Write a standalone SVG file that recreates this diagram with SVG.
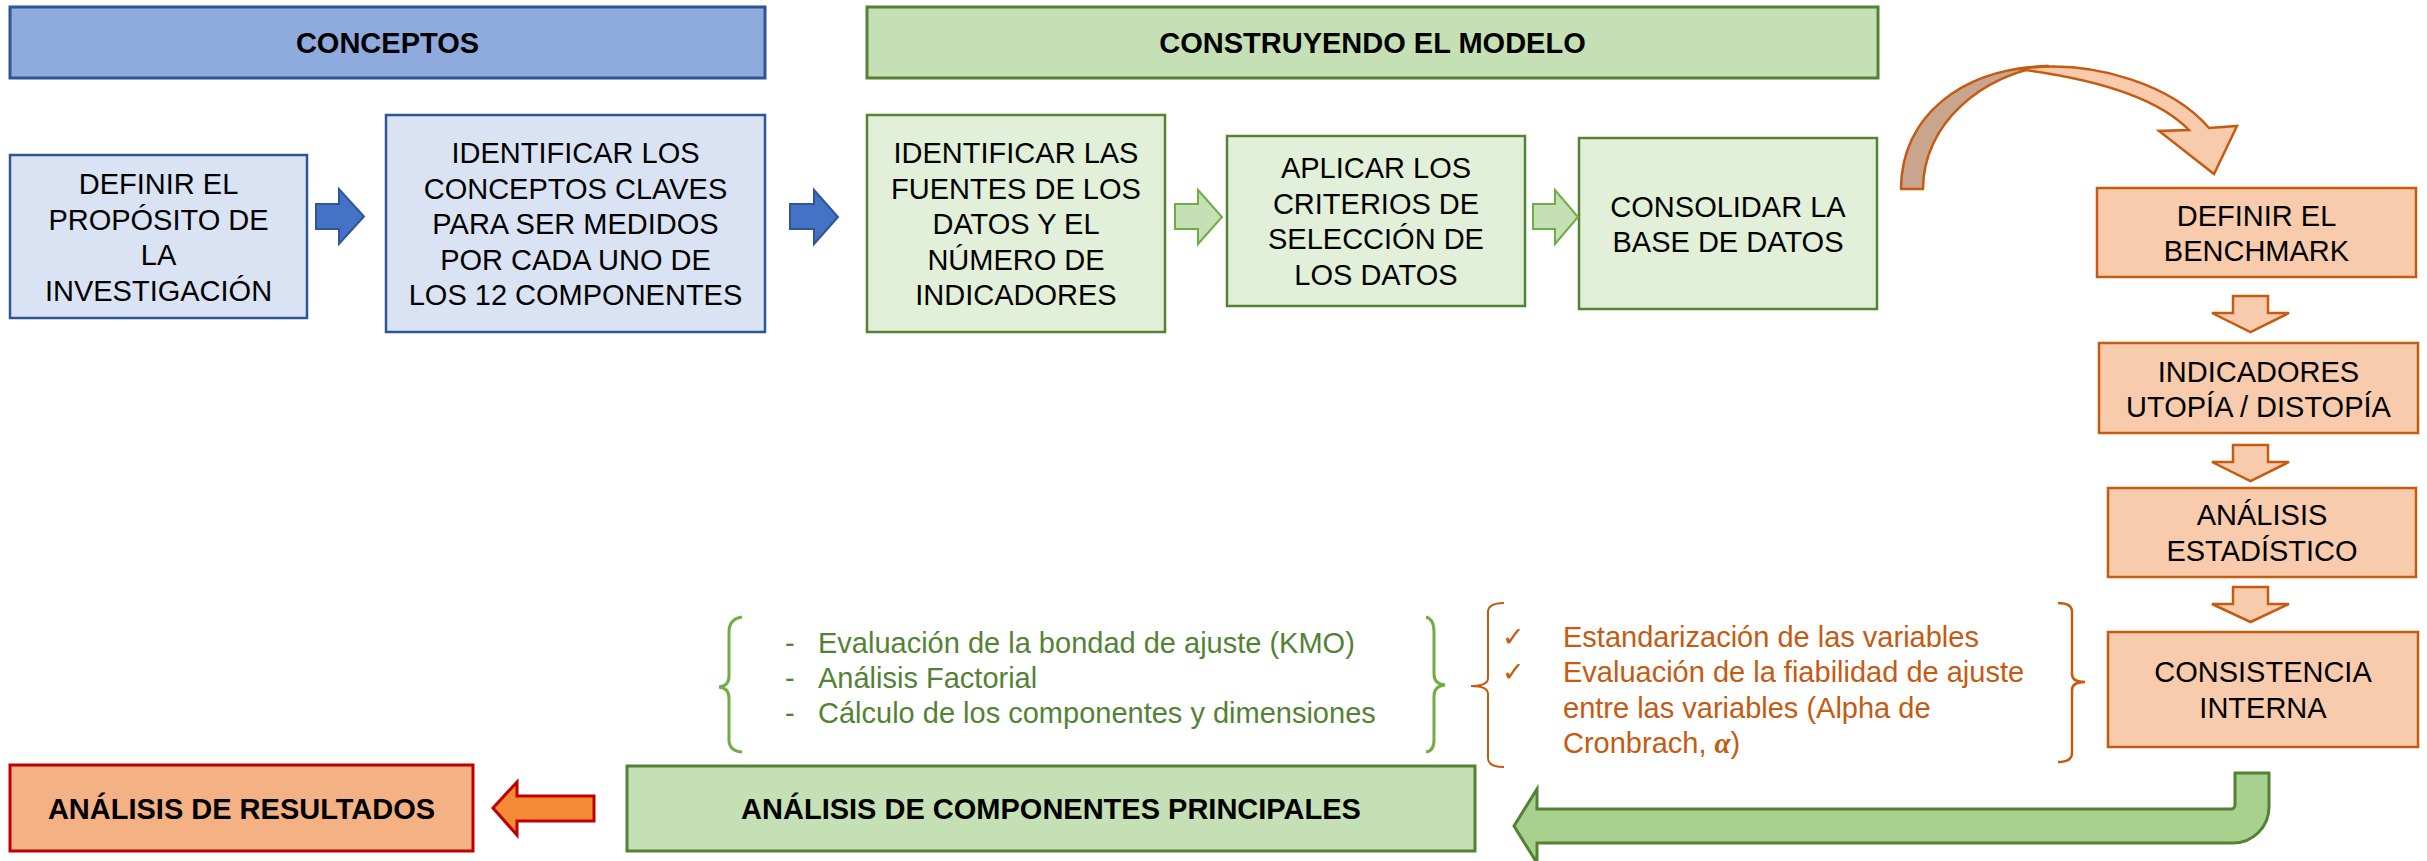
<svg xmlns="http://www.w3.org/2000/svg" width="2427" height="861" viewBox="0 0 2427 861">
<style>
text{font-family:"Liberation Sans",Arial,sans-serif;font-size:29px;fill:#000}
.c{text-anchor:middle}
.b{font-weight:bold}
.hb{fill:#8FAADC;stroke:#2F5597;stroke-width:3}
.bb{fill:#DAE3F3;stroke:#2F5597;stroke-width:2.5}
.hg{fill:#C5E0B4;stroke:#548235;stroke-width:3}
.bg{fill:#E2F0D9;stroke:#548235;stroke-width:2.5}
.bo{fill:#F8CBAD;stroke:#C55A11;stroke-width:2.5}
.ab{fill:#4472C4;stroke:#2F5597;stroke-width:2}
.ag{fill:#C5E0B4;stroke:#70AD47;stroke-width:2}
.ao{fill:#F8CBAD;stroke:#C55A11;stroke-width:2.5}
.tg{fill:#548235}
.to{fill:#C55A11}
.ck{font-family:"DejaVu Sans",sans-serif;font-size:27px;fill:#C55A11}
</style>
<g id="concepts-header"><rect class="hb" x="10" y="7" width="755" height="71"/><text class="c b" x="387.5" y="53">CONCEPTOS</text></g>
<g id="model-header"><rect class="hg" x="867" y="7" width="1011" height="71"/><text class="c b" x="1372.5" y="53">CONSTRUYENDO EL MODELO</text></g>
<g id="n1"><rect class="bb" x="10" y="155" width="297" height="163"/>
<text class="c" x="158.5"><tspan x="158.5" y="194">DEFINIR EL</tspan><tspan x="158.5" y="229.5">PROPÓSITO DE</tspan><tspan x="158.5" y="265">LA</tspan><tspan x="158.5" y="300.5">INVESTIGACIÓN</tspan></text></g>
<g id="n2"><rect class="bb" x="386" y="115" width="379" height="217"/>
<text class="c" x="575.5"><tspan x="575.5" y="163">IDENTIFICAR LOS</tspan><tspan x="575.5" y="198.5">CONCEPTOS CLAVES</tspan><tspan x="575.5" y="234">PARA SER MEDIDOS</tspan><tspan x="575.5" y="269.5">POR CADA UNO DE</tspan><tspan x="575.5" y="305">LOS 12 COMPONENTES</tspan></text></g>
<g id="n3"><rect class="bg" x="867" y="115" width="298" height="217"/>
<text class="c" x="1016"><tspan x="1016" y="163">IDENTIFICAR LAS</tspan><tspan x="1016" y="198.5">FUENTES DE LOS</tspan><tspan x="1016" y="234">DATOS Y EL</tspan><tspan x="1016" y="269.5">NÚMERO DE</tspan><tspan x="1016" y="305">INDICADORES</tspan></text></g>
<g id="n4"><rect class="bg" x="1227" y="136" width="298" height="170"/>
<text class="c" x="1376"><tspan x="1376" y="178">APLICAR LOS</tspan><tspan x="1376" y="213.5">CRITERIOS DE</tspan><tspan x="1376" y="249">SELECCIÓN DE</tspan><tspan x="1376" y="284.5">LOS DATOS</tspan></text></g>
<g id="n5"><rect class="bg" x="1579" y="138" width="298" height="171"/>
<text class="c" x="1728"><tspan x="1728" y="216.5">CONSOLIDAR LA</tspan><tspan x="1728" y="252">BASE DE DATOS</tspan></text></g>
<g id="n6"><rect class="bo" x="2097" y="188" width="319" height="89"/>
<text class="c" x="2256.5"><tspan x="2256.5" y="225.5">DEFINIR EL</tspan><tspan x="2256.5" y="261">BENCHMARK</tspan></text></g>
<g id="n7"><rect class="bo" x="2099" y="343" width="319" height="90"/>
<text class="c" x="2258.5"><tspan x="2258.5" y="381.5">INDICADORES</tspan><tspan x="2258.5" y="417">UTOPÍA / DISTOPÍA</tspan></text></g>
<g id="n8"><rect class="bo" x="2108" y="488" width="308" height="89"/>
<text class="c" x="2262"><tspan x="2262" y="525">ANÁLISIS</tspan><tspan x="2262" y="560.5">ESTADÍSTICO</tspan></text></g>
<g id="n9"><rect class="bo" x="2108" y="632" width="310" height="115"/>
<text class="c" x="2263"><tspan x="2263" y="682">CONSISTENCIA</tspan><tspan x="2263" y="717.5">INTERNA</tspan></text></g>
<g id="n10"><rect class="hg" x="627" y="766" width="848" height="85"/><text class="c b" x="1051" y="819">ANÁLISIS DE COMPONENTES PRINCIPALES</text></g>
<g id="n11"><rect x="10" y="765" width="463" height="86" fill="#F4B183" stroke="#C00000" stroke-width="3"/><text class="c b" x="241.5" y="819">ANÁLISIS DE RESULTADOS</text></g>
<g id="note-green">
<path d="M742,617 Q729,619 729,632 L729,676 Q729,686 719,687 Q729,688 729,698 L729,740 Q729,751 742,752" fill="none" stroke="#70AD47" stroke-width="3"/>
<path d="M1426,617 Q1434,619 1434,632 L1434,674 Q1434,684 1445,685 Q1434,686 1434,696 L1434,740 Q1434,751 1426,752" fill="none" stroke="#70AD47" stroke-width="3"/>
<text class="tg" x="785" y="653">-</text><text class="tg" x="818" y="653">Evaluación de la bondad de ajuste (KMO)</text>
<text class="tg" x="785" y="688">-</text><text class="tg" x="818" y="688">Análisis Factorial</text>
<text class="tg" x="785" y="723">-</text><text class="tg" x="818" y="723">Cálculo de los componentes y dimensiones</text>
</g>
<g id="note-orange">
<path d="M1504,603 Q1488,603 1488,612 L1488,678 Q1488,686 1471,686 Q1488,686 1488,694 L1488,758 Q1488,767 1504,767" fill="none" stroke="#C55A11" stroke-width="2"/>
<path d="M2058,603 Q2072,603 2072,612 L2072,674 Q2072,682 2085,682 Q2072,682 2072,690 L2072,753 Q2072,762 2058,762" fill="none" stroke="#C55A11" stroke-width="2.5"/>
<text class="ck" x="1502" y="646">✓</text>
<text class="to" x="1563" y="646.5">Estandarización de las variables</text>
<text class="ck" x="1502" y="681">✓</text>
<text class="to" x="1563" y="682">Evaluación de la fiabilidad de ajuste</text>
<text class="to" x="1563" y="717.5">entre las variables (Alpha de</text>
<text class="to" x="1563" y="753">Cronbrach, <tspan style="font-family:'Liberation Serif',serif;font-style:italic;font-weight:bold">α</tspan>)</text>
</g>
<g id="connectors">
<path class="ab" d="M316,204 L339,204 L339,189 L364,216.5 L339,244 L339,229 L316,229 Z"/>
<path class="ab" d="M790,204 L814,204 L814,190 L838,217 L814,244 L814,229 L790,229 Z"/>
<path class="ag" d="M1175,204 L1198,204 L1198,190 L1222,217 L1198,244 L1198,229 L1175,229 Z"/>
<path class="ag" d="M1533,204 L1555,204 L1555,190 L1578,217 L1555,244 L1555,229 L1533,229 Z"/>
<path d="M1901,189 C1901,116 1962,68 2048,66 C1982,74 1923,124 1923,189 Z" fill="#C8A58C" stroke="#C55A11" stroke-width="2.5" stroke-linejoin="round"/>
<path d="M2018,69 C2098,58 2175,88 2209,128 L2237,126 L2214,174 L2159,131 L2189,130 C2160,100 2105,80 2018,69 Z" fill="#F8CBAD" stroke="#C55A11" stroke-width="2.5" stroke-linejoin="miter"/>
<path class="ao" d="M2233,296 L2268,296 L2268,313 L2289,313 L2250.5,332 L2212,313 L2233,313 Z"/>
<path class="ao" d="M2233,445 L2268,445 L2268,462 L2289,462 L2250.5,481 L2212,462 L2233,462 Z"/>
<path class="ao" d="M2233,587 L2268,587 L2268,604 L2289,604 L2250.5,622 L2212,604 L2233,604 Z"/>
<path d="M2235,773 L2269,773 L2269,807 A36,36 0 0 1 2233,843 L1537,843 L1537,863 L1514,826 L1537,789 L1537,809 L2231,809 A4,4 0 0 0 2235,805 Z" fill="#A9D18E" stroke="#548235" stroke-width="3"/>
<path d="M594,796 L594,821 L517,821 L517,835 L493,808 L517,782 L517,796 Z" fill="#F58B36" stroke="#C00000" stroke-width="3"/>
</g>
</svg>
